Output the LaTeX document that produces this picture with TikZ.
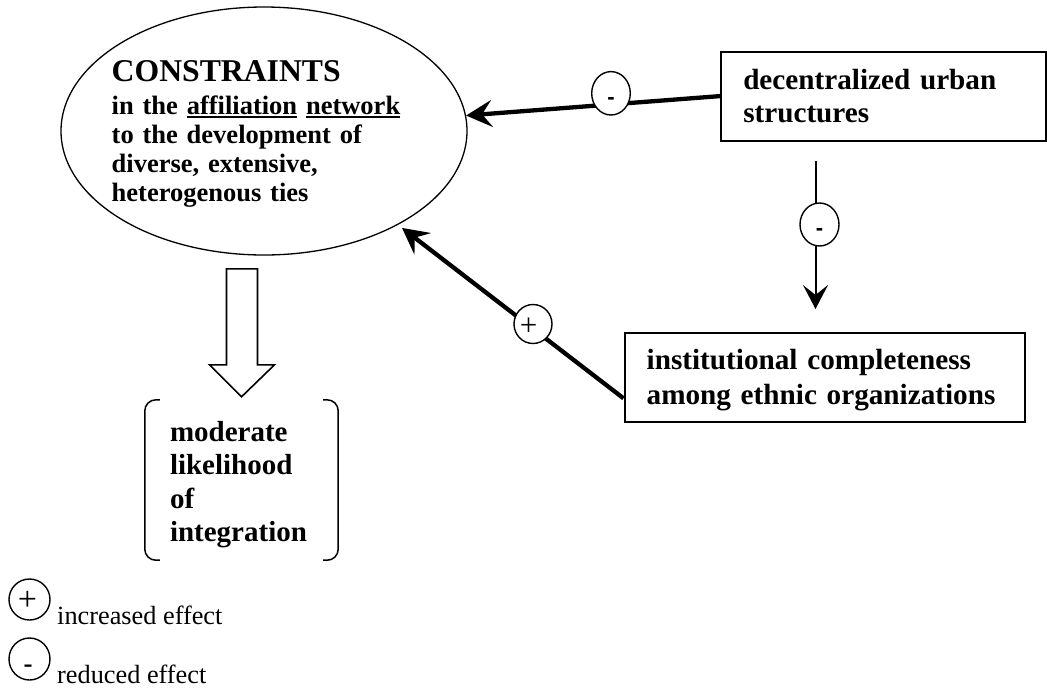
\documentclass[tikz,border=0pt]{standalone}
\usepackage{fontspec}
\setmainfont{Liberation Serif}
\newfontfamily\signsans{Liberation Sans}
\usetikzlibrary{arrows.meta,calc,shapes.geometric}
% underline a single word with a rule just below the baseline
\newsavebox\ulinebox
\newcommand\ulword[1]{\sbox\ulinebox{#1}\leavevmode\rlap{\rule[-3.2pt]{\wd\ulinebox}{1.6pt}}\usebox\ulinebox}

\begin{document}
\begin{tikzpicture}[x=1pt,y=-1pt,
  effbox/.style={draw, line width=2pt, align=left, inner xsep=22pt, inner ysep=0pt,
    font=\fontsize{29.2}{33.3}\selectfont\bfseries},
  signnode/.style={draw, ellipse, fill=white, line width=1.4pt, inner sep=0pt,
    text height=22pt, text depth=0pt},
  fatlink/.style={line width=4.3pt, -{Stealth[length=26pt,width=27pt,inset=10pt]}},
  thinlink/.style={line width=2pt, -{Stealth[length=24pt,width=25pt,inset=10pt]}},
  bracket/.style={line width=1.5pt, rounded corners=11pt},
  blockarrow/.style={line width=1.6pt, line join=miter},
  legendtext/.style={anchor=base west, inner sep=0pt, font=\fontsize{26.3}{30}\selectfont}
]
\useasboundingbox (0,0) rectangle (1047,689);

% central ellipse and its text
\node[draw, ellipse, line width=1.3pt, minimum width=406pt, minimum height=248pt, inner sep=0pt] (cons) at (264,131) {};
\node[anchor=north west, inner sep=0pt, align=left, text width=300pt,
      font=\fontsize{26.5}{29}\selectfont\bfseries] (constext) at (111.5,60.5)
  {{\fontsize{31.7}{33}\selectfont CONSTRAINTS}\\[4pt]
   in the \ulword{affiliation} \ulword{network}\\
   to the development of\\
   diverse, extensive,\\
   heterogenous ties};

% cause boxes
\node[effbox, minimum width=324.5pt, minimum height=88.8pt, text width=280pt] (box1) at (883.25,96.1)
  {decentralized urban\\structures};
\node[effbox, minimum width=400.3pt, minimum height=89.6pt, text width=356pt,
      font=\fontsize{29.2}{35}\selectfont\bfseries] (box2) at (824.65,377.5)
  {\rule{0pt}{26pt}institutional completeness\\among ethnic organizations};

% outcome between brackets
\node[align=left, text width=143pt, inner sep=0pt, minimum width=193pt, minimum height=160pt,
      font=\fontsize{29}{33.3}\selectfont\bfseries] (ob) at (241.5,480)
  {\rule{0pt}{29.6pt}moderate\\likelihood\\of\\integration};
\draw[bracket] ($(ob.north west)+(15,0)$) -- (ob.north west) -- (ob.south west) -- ($(ob.south west)+(15,0)$);
\draw[bracket] ($(ob.north east)+(-15,0)$) -- (ob.north east) -- (ob.south east) -- ($(ob.south east)+(-15,0)$);

% connectors
\draw[fatlink] (box1.west) -- (cons);
\coordinate (plusstart) at ($(box2.south west)+(0,-25)$);
\draw[fatlink, shorten >=5pt] (plusstart) -- (cons.-35);
\coordinate (vtop) at ($(box1.south west)+(95.5,19.5)$);
\draw[thinlink, shorten >=22.7pt] (vtop) -- (vtop |- box2.north);

% hollow block arrow from the ellipse to the outcome
\coordinate (btip) at ($(ob.north)+(0,-3)$);
\draw[blockarrow] (btip) -- ++(33,-32) -- ++(-17,0) -- ++(0,-96) -- ++(-31,0) -- ++(0,96) -- ++(-17,0) -- cycle;

% effect signs on the connectors
\node[signnode, minimum width=38.6pt, minimum height=43.4pt, font=\signsans\bfseries\fontsize{22}{22}\selectfont] (sgtop) at (611,93.3) {-};
\node[signnode, minimum width=39pt, minimum height=43pt, font=\signsans\bfseries\fontsize{22}{22}\selectfont] (sgv) at (819.5,224.5) {-};
\node[signnode, minimum width=38pt, minimum height=39pt, font=\fontsize{31}{31}\selectfont] (sgp) at (533,324) {+\hspace*{9pt}};

% legend
\node[signnode, minimum width=41pt, minimum height=41pt, font=\fontsize{34}{34}\selectfont] (lgp) at (29.5,599.5) {+\hspace*{4pt}};
\node[legendtext] (lgpt) at (57,624) {increased effect};
\node[signnode, minimum width=41pt, minimum height=42pt, text height=26pt, font=\fontsize{27}{27}\selectfont\bfseries] (lgm) at (29.5,659) {-\hspace*{3pt}};
\node[legendtext] (lgmt) at (57,683) {reduced effect};
\end{tikzpicture}
\end{document}
